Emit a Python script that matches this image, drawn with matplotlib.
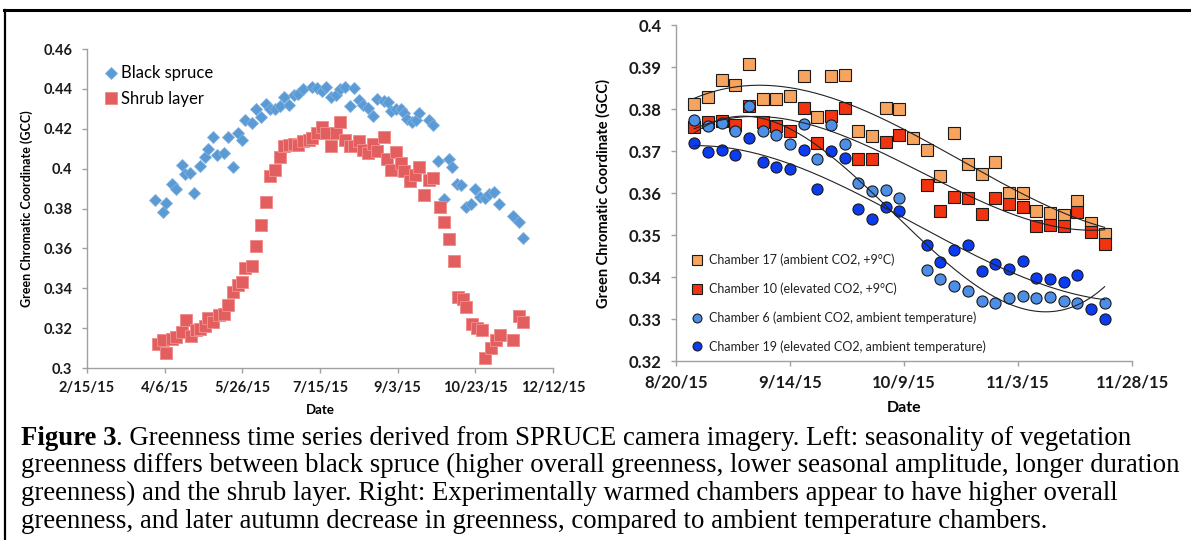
import numpy as np
import matplotlib
matplotlib.use("Agg")
import matplotlib.pyplot as plt
import matplotlib.dates as mdates
from matplotlib.ticker import FuncFormatter, MultipleLocator
from matplotlib.lines import Line2D

# ---- left panel: seasonal greenness (day of year 2015) ----
spruce_doy = [90, 95, 97, 101, 103, 107, 109, 112, 115, 119, 122, 124, 127, 130, 134,
              137, 140, 143, 146, 148, 152, 155, 158, 161, 164, 167, 170, 173, 176, 179,
              182, 185, 191, 194, 197, 200, 203, 206, 209, 212, 215, 218, 221, 224, 227,
              230, 233, 237, 240, 242, 245, 248, 250, 252, 255, 258, 260, 266, 269, 272,
              276, 279, 281, 284, 287, 290, 293, 296, 299, 302, 305, 308, 311, 320, 324, 327]
spruce_gcc = [0.3844, 0.3782, 0.383, 0.3923, 0.390, 0.402, 0.3975, 0.398, 0.388, 0.4015,
              0.406, 0.410, 0.416, 0.407, 0.408, 0.416, 0.4006, 0.418, 0.4145, 0.4245,
              0.423, 0.430, 0.426, 0.4326, 0.430, 0.430, 0.4314, 0.436, 0.432, 0.437,
              0.4376, 0.440, 0.441, 0.4405, 0.439, 0.441, 0.436, 0.437, 0.440, 0.441,
              0.4316, 0.4404, 0.4346, 0.432, 0.4306, 0.4266, 0.435, 0.4337, 0.4334, 0.429,
              0.430, 0.430, 0.428, 0.425, 0.4234, 0.4245, 0.428, 0.4245, 0.422, 0.404,
              0.385, 0.405, 0.4006, 0.3924, 0.392, 0.381, 0.3824, 0.390, 0.386, 0.3853,
              0.3874, 0.3883, 0.3824, 0.376, 0.373, 0.3652]

shrub_doy = [92, 95, 97, 101, 103, 107, 110, 113, 116, 119, 122, 124, 127, 131, 134,
             137, 140, 143, 146, 148, 152, 155, 158, 161, 164, 167, 170, 173, 176, 179,
             182, 185, 189, 191, 194, 197, 200, 203, 206, 209, 212, 215, 218, 221, 224,
             227, 230, 233, 237, 239, 242, 245, 248, 250, 254, 257, 260, 263, 266, 269,
             273, 276, 279, 282, 285, 288, 290, 294, 297, 300, 302, 306, 309, 312, 320,
             324, 327]
shrub_gcc = [0.3122, 0.3142, 0.3075, 0.3147, 0.3155, 0.318, 0.3239, 0.3158, 0.3192, 0.3195,
             0.3209, 0.325, 0.3229, 0.3267, 0.3272, 0.3317, 0.3379, 0.3418, 0.343, 0.3501,
             0.351, 0.361, 0.3719, 0.3831, 0.3965, 0.3991, 0.4057, 0.4112, 0.4117, 0.4125,
             0.412, 0.4137, 0.4142, 0.4153, 0.4178, 0.4209, 0.4178, 0.4112, 0.418, 0.4232,
             0.4142, 0.4112, 0.4112, 0.414, 0.4095, 0.4078, 0.4123, 0.4087, 0.4157, 0.4048,
             0.3995, 0.4083, 0.4028, 0.399, 0.3936, 0.3966, 0.4008, 0.3866, 0.3944, 0.3953,
             0.3806, 0.373, 0.3647, 0.3538, 0.3354, 0.3348, 0.3304, 0.322, 0.320, 0.3189,
             0.305, 0.310, 0.3142, 0.3167, 0.3142, 0.3262, 0.3229]

# ---- right panel: chambers, autumn 2015 ----
chamber_dates = ["8/24", "8/27", "8/30", "9/2", "9/5", "9/8", "9/11", "9/14", "9/17",
                 "9/20", "9/23", "9/26", "9/29", "10/2", "10/5", "10/8", "10/11", "10/14",
                 "10/17", "10/20", "10/23", "10/26", "10/29", "11/1", "11/4", "11/7",
                 "11/10", "11/13", "11/16", "11/19", "11/22"]
nan = np.nan
ch17 = [0.3811, 0.3828, 0.387, 0.3856, 0.3908, 0.3824, 0.3824, 0.3832, 0.3878, 0.3782,
        0.3878, 0.388, 0.3747, 0.3735, 0.3802, 0.3799, 0.373, 0.3703, 0.3641, 0.3744,
        0.3669, 0.3645, 0.3675, 0.360, 0.3599, 0.3557, 0.3553, 0.3547, 0.3581, 0.3528, 0.3503]
ch10 = [0.3758, 0.3768, 0.3772, 0.3763, 0.3806, 0.3768, 0.376, 0.3747, 0.3803, 0.372,
        0.3784, 0.3802, 0.368, 0.368, 0.3722, 0.3739, nan, 0.3619, 0.3557, 0.359,
        0.3587, 0.3551, 0.3589, 0.3573, 0.3566, 0.3521, 0.3525, 0.3521, 0.3555, 0.3507, 0.3479]
ch6 = [0.3775, 0.3759, 0.3766, 0.3748, 0.3806, 0.3748, 0.3739, 0.3716, 0.3764, 0.368,
       0.3762, 0.3716, 0.3625, 0.3605, 0.3606, 0.3589, nan, 0.3417, 0.3395, 0.3379,
       0.3367, 0.3343, 0.3337, 0.3351, 0.3355, 0.3349, 0.3353, 0.3343, 0.3337, nan, 0.3337]
ch19 = [0.3719, 0.3698, 0.3703, 0.369, 0.3732, 0.3673, 0.3662, 0.3658, 0.3703, 0.3609,
        0.370, 0.3684, 0.3561, 0.3537, 0.3566, 0.3558, nan, 0.3477, 0.3435, 0.3465,
        0.3477, 0.3415, 0.3431, 0.3419, 0.3439, 0.3397, 0.3395, 0.3389, 0.3405, 0.3325, 0.3299]

caption_lines = [
    "Greenness time series derived from SPRUCE camera imagery. Left: seasonality of vegetation",
    "greenness differs between black spruce (higher overall greenness, lower seasonal amplitude, longer duration",
    "greenness) and the shrub layer. Right: Experimentally warmed chambers appear to have higher overall",
    "greenness, and later autumn decrease in greenness, compared to ambient temperature chambers.",
]

FONT = ["Lato", "DejaVu Sans"]
plt.rcParams["font.family"] = FONT

W, H = 1191, 540
fig = plt.figure(figsize=(W / 100, H / 100), dpi=100)


def ax_rect(x0, x1, ytop, ybot):
    return [x0 / W, 1 - ybot / H, (x1 - x0) / W, (ybot - ytop) / H]


def doy_to_date(doy):
    return np.datetime64("2014-12-31") + np.array(doy).astype("timedelta64[D]")


def date_fmt(x, pos):
    d = mdates.num2date(x)
    return f"{d.month}/{d.day}/{d.year % 100}"


def gcc_fmt(v, pos):
    s = f"{v:.2f}"
    return s[:-1] if s.endswith("0") else s


def style_axes(ax, start, end, step, tsize, ysize):
    for s in ["top", "right"]:
        ax.spines[s].set_visible(False)
    for s in ["left", "bottom"]:
        ax.spines[s].set_color("#a0a0a0")
        ax.spines[s].set_linewidth(1.0)
    d0, d1 = np.datetime64(start), np.datetime64(end)
    ax.set_xlim(d0, d1)
    ax.set_xticks(np.arange(d0, d1 + np.timedelta64(1, "D"), np.timedelta64(step, "D")))
    ax.tick_params(axis="both", direction="out", length=3.5, width=1.0, color="#a0a0a0")
    ax.tick_params(axis="x", labelsize=tsize, pad=6)
    ax.tick_params(axis="y", labelsize=ysize, pad=7)
    ax.xaxis.set_major_formatter(FuncFormatter(date_fmt))
    ax.yaxis.set_major_formatter(FuncFormatter(gcc_fmt))
    for lab in ax.get_xticklabels() + ax.get_yticklabels():
        lab.set_fontweight("bold")
        lab.set_color("#1a1a1a")


# ---------- left ----------
axL = fig.add_axes(ax_rect(87, 553, 49, 368))
axL.plot(doy_to_date(spruce_doy), spruce_gcc, ls="none", marker="D", ms=6,
         mfc="#5b9bd5", mec="#7fb1e0", mew=0.6, label="Black spruce")
axL.plot(doy_to_date(shrub_doy), shrub_gcc, ls="none", marker="s", ms=8,
         mfc="#e35f5f", mec="#f08c8c", mew=0.7, label="Shrub layer")
axL.set_ylim(0.30, 0.46)
axL.yaxis.set_major_locator(MultipleLocator(0.02))
style_axes(axL, "2015-02-15", "2015-12-12", 50, 10.5, 10.5)
axL.set_ylabel("Green Chromatic Coordinate (GCC)", fontsize=9, fontweight="bold")
axL.yaxis.set_label_coords(-0.116, 0.5)
axL.set_xlabel("Date", fontsize=9.5, fontweight="bold")
axL.xaxis.set_label_coords(0.5, -0.132)
axL.xaxis.label.set_va("center")
axL.legend(loc="upper left", bbox_to_anchor=(0.015, 0.985), frameon=False, fontsize=12,
           handlelength=0.7, handletextpad=0.25, labelspacing=0.55, borderpad=0.2)

# ---------- right ----------
axR = fig.add_axes(ax_rect(676, 1132, 25, 361))
cd = np.array([np.datetime64("2015-%02d-%02d" % tuple(int(p) for p in s.split("/")))
               for s in chamber_dates])
series = [
    (ch17, "s", 8.3, "#f7a45e", "Chamber 17 (ambient CO2, +9°C)"),
    (ch10, "s", 8.3, "#f2330f", "Chamber 10 (elevated CO2, +9°C)"),
    (ch6, "o", 8.0, "#4d8fe6", "Chamber 6 (ambient CO2, ambient temperature)"),
    (ch19, "o", 8.0, "#0b3cf0", "Chamber 19 (elevated CO2, ambient temperature)"),
]
t0 = mdates.date2num(cd[0])
xn = mdates.date2num(cd) - t0
handles = []
for vals, mk, ms, col, lab in series:
    v = np.array(vals, dtype=float)
    axR.plot(cd, v, ls="none", marker=mk, ms=ms, mfc=col, mec="#1a1a1a", mew=0.8, zorder=3)
    ok = ~np.isnan(v)
    coef = np.polyfit(xn[ok], v[ok], 3)
    xx = np.linspace(xn[0], xn[-1], 200)
    axR.plot(xx + t0, np.polyval(coef, xx), color="#222222", lw=0.8, zorder=4)
    handles.append(Line2D([], [], ls="none", marker=mk, ms=ms * 0.8, mfc=col,
                          mec="#1a1a1a", mew=0.8, label=lab))
axR.set_ylim(0.32, 0.40)
axR.yaxis.set_major_locator(MultipleLocator(0.01))
style_axes(axR, "2015-08-20", "2015-11-28", 25, 12, 12)
axR.set_ylabel("Green Chromatic Coordinate (GCC)", fontsize=10.5, fontweight="bold")
axR.yaxis.set_label_coords(-0.1425, 0.5)
axR.set_xlabel("Date", fontsize=11.5, fontweight="bold")
axR.xaxis.set_label_coords(0.5, -0.14)
axR.xaxis.label.set_va("center")
leg = axR.legend(handles=handles, loc="upper left", bbox_to_anchor=(0.015, 0.345),
                 frameon=False, fontsize=9, handlelength=0.8, handletextpad=0.6,
                 labelspacing=1.3, borderpad=0.2)
for t in leg.get_texts():
    t.set_color("#222222")

# ---------- frame ----------
fig.add_artist(Line2D([4 / W, 1], [1 - 9.5 / H] * 2, color="black", lw=2.2))
fig.add_artist(Line2D([4.5 / W] * 2, [0, 1 - 9.5 / H], color="black", lw=1.6))

# ---------- caption ----------
serif = ["Liberation Serif", "DejaVu Serif"]
renderer = fig.canvas.get_renderer()
cap_size = 17
probe = fig.text(0, 0, caption_lines[1], fontsize=cap_size, family=serif)
wpx = probe.get_window_extent(renderer).width
probe.remove()
cap_size = cap_size * 1160 / wpx

baselines = [445, 472.5, 500, 527.5]
x0 = 21
fig_t = fig.text(x0 / W, 1 - baselines[0] / H, "Figure 3", fontsize=cap_size,
                 family=serif, fontweight="bold", va="baseline")
bw = fig_t.get_window_extent(renderer).width
fig.text((x0 + bw) / W, 1 - baselines[0] / H, ". " + caption_lines[0], fontsize=cap_size,
         family=serif, va="baseline")
for line, b in zip(caption_lines[1:], baselines[1:]):
    fig.text(x0 / W, 1 - b / H, line, fontsize=cap_size, family=serif, va="baseline")

fig.savefig("out.png", dpi=100)
